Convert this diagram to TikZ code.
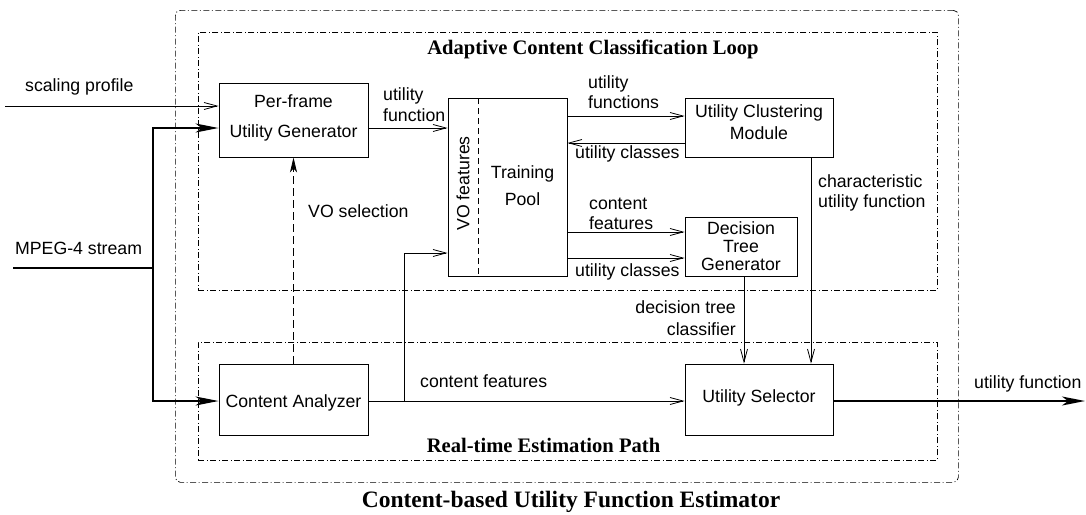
\documentclass[tikz,border=0pt]{standalone}
\usepackage{fontspec}
\setmainfont{Liberation Sans}
\newfontfamily\ttlfont{Liberation Serif}
\usetikzlibrary{arrows.meta,calc}
\newcommand\tstrut[1]{\rule{0pt}{#1pt}}
\newcommand\bstrut[1]{\rule[-#1pt]{0pt}{#1pt}}
\newcommand\fs[1]{\fontsize{17.7pt}{#1pt}\selectfont}
\begin{document}
\begin{tikzpicture}[x=1pt,y=-1pt,
  oarr/.tip={Straight Barb[length=13pt,width=7pt]},
  barr/.tip={Stealth[length=23pt,width=9pt,inset=6pt]},
  varr/.tip={Stealth[length=15pt,width=7pt,inset=4pt]},
  grp/.style={draw, line width=0.7pt, dash pattern=on 6pt off 2.5pt on 1pt off 2.5pt, inner sep=0pt, anchor=north west},
  box/.style={draw, line width=0.9pt, inner sep=0pt, align=center, font={\fs{21}}},
  vobox/.style={draw, line width=0.8pt, dash pattern=on 6pt off 4pt, inner sep=0pt, font={\fs{21}}},
  conn/.style={line width=0.8pt, -oarr},
  bconn/.style={line width=1.6pt, -barr},
  dconn/.style={line width=0.8pt, dash pattern=on 8pt off 4pt, -varr},
  lab/.style={inner sep=0pt, font={\fs{21}}},
  ttl/.style={inner sep=0pt, anchor=base, font={\ttlfont\bfseries\fontsize{20.6pt}{24pt}\selectfont}},
  bigttl/.style={inner sep=0pt, anchor=base, font={\ttlfont\bfseries\fontsize{23.5pt}{28pt}\selectfont}}
]
\useasboundingbox (0,0) rectangle (1086,514);

% group frames
\node[grp, rounded corners=5pt, minimum width=783pt, minimum height=472pt] (outer) at (175,10) {};
\node[grp, minimum width=739pt, minimum height=258pt] (loop) at (198,32) {};
\node[grp, minimum width=739pt, minimum height=118pt] (path) at (198,342) {};

% titles
\node[ttl] (tloop) at (593,54.3) {Adaptive Content Classification Loop};
\node[ttl] (tpath) at (543.5,452.6) {Real-time Estimation Path};
\node[bigttl] (tall) at (571,507.5) {Content-based Utility Function Estimator};

% boxes
\node[box, minimum width=149pt, minimum height=74pt, font={\fs{30}}] (pf) at (293.5,120) {Per-frame\\Utility Generator\bstrut{8.7}};
\node[box, minimum width=149pt, minimum height=71pt] (ca) at (293.5,399.5) {\tstrut{18.7}Content Analyzer};
\node[box, minimum width=119pt, minimum height=178pt, font={\fs{27}}] (tp) at (507.5,187) {\hspace*{30pt}Training\\\hspace*{30pt}Pool\bstrut{2.3}};
\node[vobox, rotate=90, minimum width=178pt, minimum height=30pt] (vo) at (463,187) {\hspace*{7pt}VO features};
\node[box, minimum width=148pt, minimum height=59pt, font={\fs{22}}] (ucm) at (759,127.5) {Utility Clustering\\Module\bstrut{10.3}};
\node[box, minimum width=112pt, minimum height=59pt, font={\fs{18}}] (dtg) at (741,246.5) {Decision\\Tree\\Generator};
\node[box, minimum width=148pt, minimum height=71pt] (us) at (759,399.5) {Utility Selector\bstrut{7.7}};

% labels
\node[lab, anchor=base west] (lsp) at (25,91) {scaling profile};
\node[lab, anchor=base west] (lmp) at (15,254) {MPEG-4 stream};
\node[lab, anchor=north west, align=left, font={\fs{21}}] (luf) at (383,87) {\tstrut{13}utility\\function};
\node[lab, anchor=north west, align=left, font={\fs{19.7}}] (lufs) at (588,75.7) {\tstrut{13}utility\\functions};
\node[lab, anchor=base west] (luc1) at (575,158.4) {utility classes};
\node[lab, anchor=north west, align=left, font={\fs{20}}] (lcf1) at (589,196) {\tstrut{13}content\\features};
\node[lab, anchor=base west] (luc2) at (575,276) {utility classes};
\node[lab, anchor=base west] (lvo) at (308,217) {VO selection};
\node[lab, anchor=north east, align=right, font={\fs{22}}] (ldt) at (736,300.4) {\tstrut{13}decision tree\\classifier};
\node[lab, anchor=north west, align=left, font={\fs{20}}] (lch) at (818,174.7) {\tstrut{13}characteristic\\utility function};
\node[lab, anchor=base west] (lcf2) at (420,387.7) {content features};
\node[lab, anchor=base west] (lout) at (974,388.4) {utility function};

% connectors
\coordinate (sp) at (5,106);
\draw[conn] (sp) -- (sp -| pf.west);
\coordinate (ms) at (13,268);
\coordinate (mj) at (153,268);
\draw[line width=1.6pt] (ms) -- (mj);
\draw[bconn] (mj) |- ([yshift=-8pt]pf.west);
\draw[bconn] (mj) |- ([yshift=-1.5pt]ca.west);
\draw[dconn] (ca.north) -- (pf.south);
\draw[conn] ([yshift=-8pt]pf.east) -- ([yshift=-8pt]pf.east -| tp.west);
\draw[conn] ([yshift=11.5pt]ucm.west -| tp.east) -- ([yshift=11.5pt]ucm.west);
\draw[conn] ([yshift=-15.5pt]ucm.west) -- ([yshift=-15.5pt]ucm.west -| tp.east);
\draw[conn] ([yshift=14.5pt]dtg.west -| tp.east) -- ([yshift=14.5pt]dtg.west);
\draw[conn] ([yshift=-11.5pt]dtg.west -| tp.east) -- ([yshift=-11.5pt]dtg.west);
\draw[conn] ([xshift=3pt]dtg.south) -- ([xshift=3pt]dtg.south |- us.north);
\draw[conn] ([xshift=52pt]ucm.south) -- ([xshift=52pt]ucm.south |- us.north);
\draw[conn] ([yshift=-1.5pt]ca.east) -- ([yshift=-1.5pt]ca.east -| us.west);
\coordinate (br) at (404,401);
\draw[conn] (br) |- ([yshift=-66pt]tp.west);
\coordinate (out) at (1085,401);
\draw[bconn] ([yshift=-1.5pt]us.east) -- (out);
\end{tikzpicture}
\end{document}
